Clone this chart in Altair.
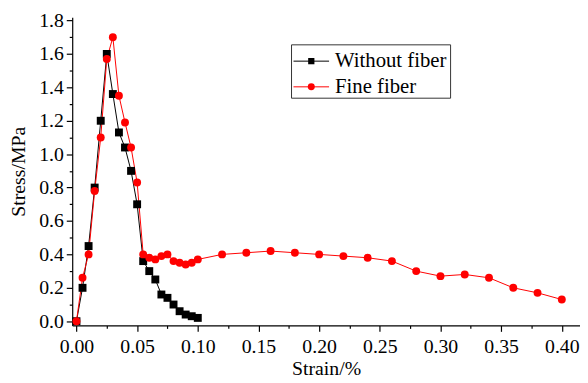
import altair as alt
import pandas as pd

strain_a = [0, 0.005, 0.01, 0.015, 0.02, 0.025, 0.03, 0.035, 0.04, 0.045, 0.05,
            0.055, 0.06, 0.065, 0.07, 0.075, 0.08, 0.085, 0.09, 0.095, 0.1]
stress_a = [0, 0.20, 0.45, 0.80, 1.20, 1.60, 1.36, 1.13, 1.04, 0.90, 0.70,
            0.36, 0.30, 0.25, 0.16, 0.14, 0.10, 0.06, 0.04, 0.03, 0.02]

strain_b = [0, 0.005, 0.01, 0.015, 0.02, 0.025, 0.03, 0.035, 0.04, 0.045, 0.05,
            0.055, 0.06, 0.065, 0.07, 0.075, 0.08, 0.085, 0.09, 0.095, 0.1,
            0.12, 0.14, 0.16, 0.18, 0.20, 0.22, 0.24, 0.26, 0.28, 0.30, 0.32,
            0.34, 0.36, 0.38, 0.40]
stress_b = [0, 0.26, 0.40, 0.78, 1.10, 1.57, 1.70, 1.35, 1.19, 1.04, 0.83,
            0.40, 0.38, 0.37, 0.39, 0.40, 0.36, 0.35, 0.34, 0.35, 0.37,
            0.40, 0.41, 0.42, 0.41, 0.40, 0.39, 0.38, 0.36, 0.30, 0.27, 0.28,
            0.26, 0.20, 0.17, 0.13]

series_names = ["Without fiber", "Fine fiber"]
series_colors = ["#000000", "#ff0000"]

x_ticks = [round(i * 0.025, 3) for i in range(17)]
y_ticks = [round(i * 0.1, 1) for i in range(19)]

FONT = "Liberation Serif"

df_a = pd.DataFrame({"strain": strain_a, "stress": stress_a, "series": series_names[0]})
df_b = pd.DataFrame({"strain": strain_b, "stress": stress_b, "series": series_names[1]})

xscale = alt.Scale(domain=[-0.0035, 0.415], nice=False, zero=False)
yscale = alt.Scale(domain=[-0.025, 1.82], nice=False, zero=False)

xaxis = alt.Axis(
    title="Strain/%", values=x_ticks,
    labelExpr="round(datum.value*40)%2==0 ? format(datum.value,'.2f') : ''",
    tickSize={"condition": {"test": "round(datum.value*40)%2==0", "value": 6}, "value": 3},
    labelOverlap=False, grid=False, domainColor="black", tickColor="black",
    domainWidth=1.2, tickWidth=1.2, labelFont=FONT, labelFontSize=20,
    labelColor="black", titleFont=FONT, titleFontSize=20, titleFontWeight="normal",
    titleColor="black", labelPadding=5, titlePadding=3,
)
yaxis = alt.Axis(
    title="Stress/MPa", values=y_ticks,
    labelExpr="round(datum.value*10)%2==0 ? format(datum.value,'.1f') : ''",
    tickSize={"condition": {"test": "round(datum.value*10)%2==0", "value": 6}, "value": 3},
    labelOverlap=False, grid=False, domainColor="black", tickColor="black",
    domainWidth=1.2, tickWidth=1.2, labelFont=FONT, labelFontSize=20,
    labelColor="black", titleFont=FONT, titleFontSize=20, titleFontWeight="normal",
    titleColor="black", labelPadding=3, titlePadding=10,
)

def series_layers(df, color, shape):
    base = alt.Chart(df).encode(
        x=alt.X("strain:Q", scale=xscale, axis=xaxis),
        y=alt.Y("stress:Q", scale=yscale, axis=yaxis),
    )
    line = base.mark_line(color=color, strokeWidth=1)
    pts = base.mark_point(shape=shape, filled=True, color=color, size=64, opacity=1)
    return line, pts

la, pa = series_layers(df_a, series_colors[0], "square")
lb, pb = series_layers(df_b, series_colors[1], "circle")

# Manual legend
box = alt.Chart(pd.DataFrame({"k": [0]})).mark_rect(
    fill="white", stroke="#333333", strokeWidth=1
).encode(x=alt.value(222), x2=alt.value(383), y=alt.value(28), y2=alt.value(82))

legend_layers = [box]
for i, (name, col, shp) in enumerate(zip(series_names, series_colors, ["square", "circle"])):
    yy = 44.5 + i * 26
    d = pd.DataFrame({"label": [name]})
    legend_layers.append(alt.Chart(d).mark_rule(color=col, strokeWidth=1).encode(
        x=alt.value(224), x2=alt.value(260), y=alt.value(yy)))
    legend_layers.append(alt.Chart(d).mark_point(shape=shp, filled=True, color=col,
                                                 size=40 if shp == "square" else 50, opacity=1).encode(
        x=alt.value(242), y=alt.value(yy)))
    legend_layers.append(alt.Chart(d).mark_text(align="left", baseline="middle", font=FONT,
                                                fontSize=21, color="black").encode(
        x=alt.value(266), y=alt.value(yy), text="label:N"))

chart = alt.layer(la, lb, pa, pb, *legend_layers).properties(
    width=514, height=312,
    background="white",
    autosize=alt.AutoSizeParams(type="none"),
    padding={"left": 65, "top": 7, "right": 0, "bottom": 56},
).configure_view(stroke=None).configure_axis(
    labelFont=FONT, titleFont=FONT
).configure_text(font=FONT)

chart.save("out.html", embed_options={"renderer": "svg", "actions": False})
